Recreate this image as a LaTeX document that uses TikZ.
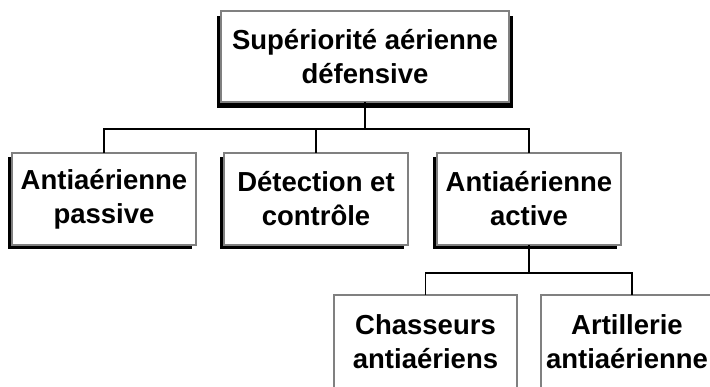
\documentclass[tikz,border=0pt]{standalone}
\usepackage{fontspec}
\setmainfont{Liberation Sans}
\usetikzlibrary{backgrounds,calc}
\definecolor{boxgray}{RGB}{128,128,128}
\begin{document}
\begin{tikzpicture}[x=1pt,y=-1pt,
  box/.style={draw=boxgray, line width=2pt, fill=white, rectangle,
    inner sep=0pt, outer sep=0pt, align=center,
    font=\bfseries\fontsize{27.5}{34}\selectfont,
    minimum width=184pt, minimum height=92pt},
  link/.style={draw=black, line width=1.5pt},
  shade/.style={fill=black}]
\useasboundingbox (0,0) rectangle (710,387);
\begin{scope}
\clip (0,0) rectangle (710,387);

% organisation boxes
\node[box, minimum width=288pt, minimum height=91pt] (top) at (365,56.5)
  {Supériorité aérienne\\défensive};
\node[box] (b1) at (104,199) {Antiaérienne\\passive};
\node[box] (b2) at (316,199) {Détection et\\contrôle};
\node[box] (b3) at (529,199) {Antiaérienne\\active};
\node[box, minimum width=183pt, minimum height=94pt] (c1) at (425.5,342)
  {Chasseurs\\antiaériens};
\node[box, minimum width=172pt, minimum height=94pt] (c2) at (627,342)
  {Artillerie\\antiaérienne};

% drop shadows behind the boxes
\begin{scope}[on background layer]
  \fill[shade] ($(top.north west)+(-4,5)$) rectangle ($(top.south east)+(4,6)$);
  \foreach \n in {b1,b2,b3}
    \fill[shade] ($(\n.north west)+(-4,4)$) rectangle ($(\n.south east)+(-4,4)$);
\end{scope}

% connectors
\coordinate (j1) at (365,129);
\coordinate (j2) at (529,273);
\coordinate (c2top) at ([xshift=5pt]c2.north);
\draw[link] (top.south) -- (j1);
\draw[link] (b1.north) -- (b1.north |- j1) -- (b3.north |- j1) -- (b3.north);
\draw[link] (b2.north) -- (b2.north |- j1);
\draw[link] (b3.south) -- (j2);
\draw[link] (c1.north) -- (c1.north |- j2) -- (c2top |- j2) -- (c2top);
\end{scope}
\end{tikzpicture}
\end{document}
